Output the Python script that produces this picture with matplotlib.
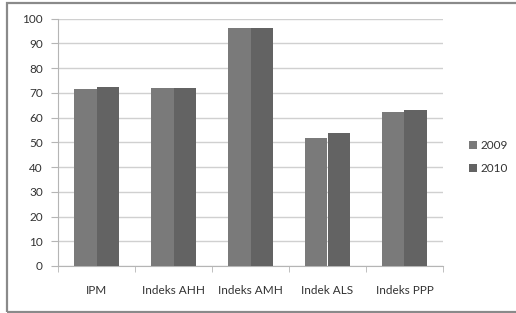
import matplotlib.pyplot as plt
import numpy as np
from matplotlib.patches import Rectangle

categories = ['IPM', 'Indeks AHH', 'Indeks AMH', 'Indek ALS', 'Indeks PPP']
years = ['2009', '2010']
vals_2009 = [71.7, 71.8, 96.1, 51.6, 62.3]
vals_2010 = [72.4, 72.1, 96.2, 53.6, 63.2]
colors = ['#7a7a7a', '#636363']

plt.rcParams['font.family'] = ['Lato', 'DejaVu Sans']
fs = 8.5

fig = plt.figure(figsize=(5.16, 3.13), dpi=100)
ax = fig.add_axes([58/516, 1-266/313, (443-58)/516, (266-18.7)/313])

# outer chart frame (Excel style)
fig.patches.append(Rectangle((7/516, 1-311.5/313), 1.0, (311.5-2.5)/313,
                             transform=fig.transFigure, fill=False,
                             edgecolor='#8a8a8a', linewidth=1.6))

x = np.arange(len(categories))
w = 0.29
ax.bar(x - w/2, vals_2009, w, color=colors[0], label=years[0], zorder=3)
ax.bar(x + w/2, vals_2010, w, color=colors[1], label=years[1], zorder=3)

ax.set_xlim(-0.5, len(categories) - 0.5)
ax.set_ylim(0, 100)
ax.set_yticks(range(0, 101, 10))
ax.yaxis.grid(True, color='#d0d0d0', linewidth=1.0, zorder=0)

for s in ['top', 'right']:
    ax.spines[s].set_visible(False)
ax.spines['left'].set_color('#b5b5b5')
ax.spines['bottom'].set_color('#b5b5b5')

ax.set_xticks(x)
ax.set_xticklabels(categories)
ax.set_xticks(np.arange(-0.5, len(categories)), minor=True)
ax.tick_params(axis='x', which='major', length=0, pad=14, labelsize=fs, labelcolor='#333333')
ax.tick_params(axis='x', which='minor', length=4, color='#b5b5b5')
ax.tick_params(axis='y', length=5, color='#b5b5b5', pad=6, labelsize=fs, labelcolor='#333333')

ax.legend(loc='center left', bbox_to_anchor=(1.04, 0.44), frameon=False,
          fontsize=fs, handlelength=0.7, handleheight=0.7, handletextpad=0.3,
          labelspacing=1.0, labelcolor='#333333')

fig.savefig('out.png', dpi=100)
